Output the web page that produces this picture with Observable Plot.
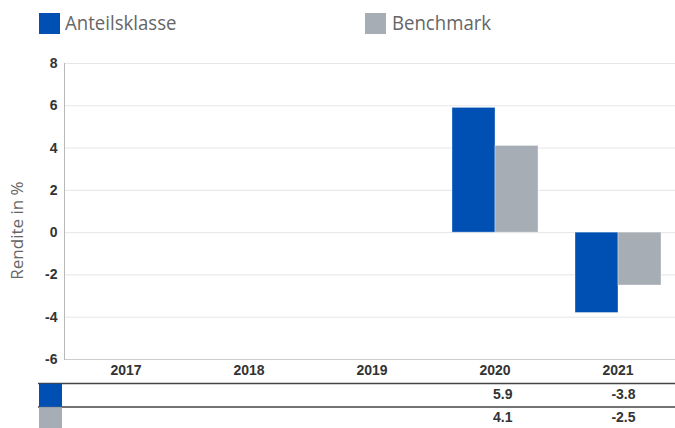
<!DOCTYPE html>
<html>
<head>
<meta charset="utf-8">
<script src="https://cdn.jsdelivr.net/npm/d3@7"></script>
<script src="https://cdn.jsdelivr.net/npm/@observablehq/plot@0.6"></script>
<style>
  html, body { margin: 0; padding: 0; background: #fff; overflow: hidden; }
  #legend { position: relative; height: 48px; width: 675px; font-family: "Open Sans", sans-serif; }
  .sw { position: absolute; top: 13px; width: 21px; height: 21px; }
  .lt { position: absolute; top: 10px; font-size: 20px; line-height: 26px; color: #666; transform: scaleX(0.93); transform-origin: left center; white-space: nowrap; }
  svg { display: block; }
</style>
</head>
<body>
<div id="legend"></div>
<div id="chart"></div>
<div id="table"></div>
<script>
const years = ["2017", "2018", "2019", "2020", "2021"];
const seriesNames = ["Anteilsklasse", "Benchmark"];
const seriesColors = ["#0050b4", "#a6adb4"];
const anteilsklasse = [null, null, null, 5.9, -3.8];
const benchmark = [null, null, null, 4.1, -2.5];
const yTicks = [-6, -4, -2, 0, 2, 4, 6, 8];
const yLabel = "Rendite in %";

const rows = [];
years.forEach((yr, i) => {
  rows.push({year: yr, series: seriesNames[0], value: anteilsklasse[i]});
  rows.push({year: yr, series: seriesNames[1], value: benchmark[i]});
});

// Legend
const legend = document.getElementById("legend");
const legendPos = [{sq: 39, tx: 65}, {sq: 365, tx: 392}];
seriesNames.forEach((s, i) => {
  const sw = document.createElement("div");
  sw.className = "sw"; sw.style.left = legendPos[i].sq + "px"; sw.style.background = seriesColors[i];
  const t = document.createElement("div");
  t.className = "lt"; t.style.left = legendPos[i].tx + "px"; t.textContent = s;
  legend.appendChild(sw); legend.appendChild(t);
});

const tickFont = "Liberation Sans, Arial, sans-serif";

const chart = Plot.plot({
  width: 675,
  height: 335,
  marginTop: 15,
  marginBottom: 24,
  marginLeft: 62,
  marginRight: -6,
  style: {fontFamily: tickFont, background: "transparent", overflow: "visible"},
  fx: {domain: years, padding: 0, label: null},
  x: {domain: seriesNames, paddingInner: 0.01, paddingOuter: 0.414, axis: null},
  y: {domain: [-6, 8], ticks: yTicks, label: null},
  color: {domain: seriesNames, range: seriesColors},
  marks: [
    Plot.gridY(yTicks, {stroke: "#e6e6e6", strokeOpacity: 1}),
    Plot.ruleY([-6], {stroke: "#cccccc"}),
    Plot.frame({anchor: "left", facetAnchor: "left", stroke: "#b8b8b8"}),
    Plot.barY(rows, {fx: "year", x: "series", y: "value", fill: "series", stroke: "#ffffff", strokeOpacity: 0.35, strokeWidth: 1}),
    Plot.axisY(yTicks, {facetAnchor: "left", tickSize: 0, tickPadding: 7, tickFormat: d => String(d), fontSize: 14, fontWeight: "bold", fill: "#333", label: null}),
    Plot.axisFx({anchor: "bottom", tickSize: 0, tickPadding: 6, fontSize: 14, fontWeight: "bold", fill: "#333", label: null}),
    Plot.text([yLabel], {frameAnchor: "left", facetAnchor: "left", rotate: -90, dx: -47, dy: 19, fontSize: 17, fill: "#666", fontFamily: "Open Sans, sans-serif", textAnchor: "middle"})
  ]
});
document.getElementById("chart").appendChild(chart);

// Data table below the chart
const table = Plot.plot({
  width: 675,
  height: 47,
  marginTop: 0,
  marginBottom: 0,
  marginLeft: 38,
  marginRight: -6,
  style: {fontFamily: tickFont, background: "transparent", overflow: "visible"},
  x: {domain: years, range: [62, 681], axis: null},
  y: {domain: [0, 2], range: [0, 47], axis: null},
  marks: [
    Plot.ruleY(seriesNames.map((s, i) => i), {stroke: "#444", strokeWidth: 1.6}),
    Plot.dot(seriesNames, {y: (d, i) => i + 0.5, frameAnchor: "left", dx: 12, symbol: "square", r: 13, fill: (d, i) => seriesColors[i], stroke: null}),
    Plot.text(rows.filter(d => d.value != null), {x: "year", y: d => seriesNames.indexOf(d.series) + 0.5, text: d => d.value.toFixed(1), textAnchor: "end", dx: 17, dy: -1, fontSize: 14, fontWeight: "bold", fill: "#333"})
  ]
});
document.getElementById("table").appendChild(table);
</script>
</body>
</html>
